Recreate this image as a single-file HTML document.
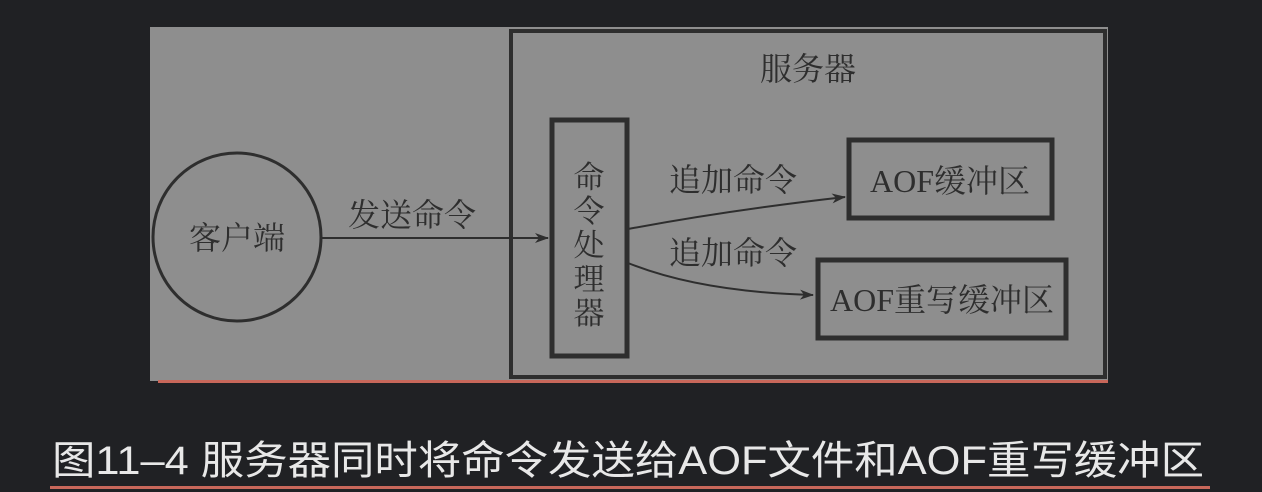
<!DOCTYPE html>
<html><head><meta charset="utf-8"><style>
html,body{margin:0;padding:0;background:#202124;width:1262px;height:492px;overflow:hidden}
svg{display:block}
</style></head><body>
<svg width="1262" height="492" viewBox="0 0 1262 492" xmlns="http://www.w3.org/2000/svg">
<defs><marker id="ar" markerWidth="14" markerHeight="10" refX="13" refY="5" orient="auto" markerUnits="userSpaceOnUse"><path d="M0,0 L14,5 L0,10 L4,5 Z" fill="#2e2e2e"/></marker></defs>
<rect x="150" y="27" width="958" height="354" fill="#8e8e8e"/>
<rect x="158" y="380" width="950" height="3" fill="#c8675a"/>
<g fill="none" stroke="#2e2e2e">
<rect x="511" y="31" width="594" height="346" stroke-width="4"/>
<circle cx="237" cy="237" r="84" stroke-width="3"/>
<rect x="552" y="120" width="75" height="236" stroke-width="5"/>
<rect x="849" y="140" width="203" height="78" stroke-width="5"/>
<rect x="818" y="260" width="248" height="78" stroke-width="5"/>
<line x1="321" y1="238" x2="548" y2="238" stroke-width="2" marker-end="url(#ar)"/>
<path d="M628,229 Q730,210 845,197" stroke-width="2" marker-end="url(#ar)"/>
<path d="M628,263 Q700,292 813,295" stroke-width="2" marker-end="url(#ar)"/>
</g>
<g fill="#2e2e2e" font-family="'Noto Serif CJK SC','Liberation Serif',serif" font-size="32">
<text x="808" y="80" text-anchor="middle">服务器</text>
<text x="237" y="249" text-anchor="middle">客户端</text>
<text x="412" y="226" text-anchor="middle">发送命令</text>
<text x="733" y="191" text-anchor="middle">追加命令</text>
<text x="733" y="264" text-anchor="middle">追加命令</text>
<text x="950" y="192" text-anchor="middle" font-family="'Liberation Serif','Noto Serif CJK SC',serif">AOF缓冲区</text>
<text x="942" y="311" text-anchor="middle" font-family="'Liberation Serif','Noto Serif CJK SC',serif">AOF重写缓冲区</text>
<text x="589" y="188" text-anchor="middle" font-size="31">命</text>
<text x="589" y="222" text-anchor="middle" font-size="31">令</text>
<text x="589" y="256" text-anchor="middle" font-size="31">处</text>
<text x="589" y="290" text-anchor="middle" font-size="31">理</text>
<text x="589" y="324" text-anchor="middle" font-size="31">器</text>
</g>
<text x="628" y="474" text-anchor="middle" fill="#e8e8e8" font-family="'Liberation Sans','Noto Sans CJK SC',sans-serif" font-size="40" textLength="1152" lengthAdjust="spacingAndGlyphs">图11–4 服务器同时将命令发送给AOF文件和AOF重写缓冲区</text>
<rect x="50" y="486" width="1160" height="3" fill="#c8675a"/>
</svg>
</body></html>
